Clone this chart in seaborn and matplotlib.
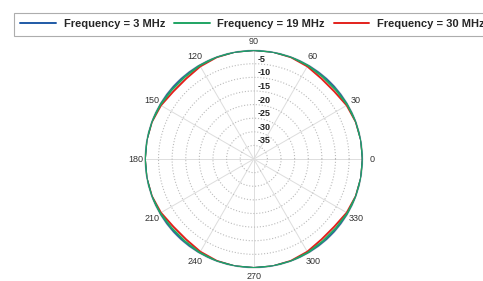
import matplotlib
matplotlib.use('Agg')
import matplotlib.pyplot as plt
import matplotlib.transforms as mtransforms
import seaborn as sns
import numpy as np
import pandas as pd

# Radiation pattern samples (dB), every 10 degrees from 0 to 360
angles_deg = [0, 10, 20, 30, 40, 50, 60, 70, 80, 90,
              100, 110, 120, 130, 140, 150, 160, 170, 180,
              190, 200, 210, 220, 230, 240, 250, 260, 270,
              280, 290, 300, 310, 320, 330, 340, 350, 360]
gain_3mhz = [0, 0, 0, -0.05, -0.1, -0.1, -0.05, 0, 0, 0,
             0, 0, -0.05, -0.1, -0.1, -0.05, 0, 0, 0,
             0, 0, -0.05, -0.1, -0.1, -0.05, 0, 0, 0,
             0, 0, -0.05, -0.1, -0.1, -0.05, 0, 0, 0]
gain_19mhz = [0, 0, -0.05, -0.3, -0.6, -0.6, -0.3, -0.05, 0, 0,
              0, -0.05, -0.3, -0.6, -0.6, -0.3, -0.05, 0, 0,
              0, -0.05, -0.3, -0.6, -0.6, -0.3, -0.05, 0, 0,
              0, -0.05, -0.3, -0.6, -0.6, -0.3, -0.05, 0, 0]
gain_30mhz = [0, 0, -0.15, -0.6, -1.4, -1.4, -0.7, -0.2, 0, 0,
              0, -0.2, -0.7, -1.4, -1.4, -0.6, -0.15, 0, 0,
              0, -0.15, -0.6, -1.4, -1.4, -0.7, -0.2, 0, 0,
              0, -0.2, -0.7, -1.4, -1.4, -0.6, -0.15, 0, 0]
series_labels = ["Frequency = 3 MHz", "Frequency = 19 MHz", "Frequency = 30 MHz"]
series_colors = ["#1f5aa6", "#1fa463", "#e3211c"]
radial_ticks = [-35, -30, -25, -20, -15, -10, -5]
angle_ticks = [0, 30, 60, 90, 120, 150, 180, 210, 240, 270, 300, 330]

sns.set_style("white")
plt.rcParams['font.family'] = ['Liberation Sans', 'DejaVu Sans']

frames = []
for label, gains in zip(series_labels, [gain_3mhz, gain_19mhz, gain_30mhz]):
    frames.append(pd.DataFrame({
        "theta": np.deg2rad(angles_deg),
        "gain": gains,
        "series": label,
    }))
df = pd.concat(frames, ignore_index=True)

fig = plt.figure(figsize=(4.83, 2.81), dpi=100)
ax = fig.add_axes([0.300, 0.046, 0.451, 0.776], projection='polar')

# Red underneath, then blue, green on top (outer edge looks teal)
for label, color, z in zip(series_labels, series_colors, [3, 4, 2]):
    sub = df[df["series"] == label]
    sns.lineplot(data=sub, x="theta", y="gain", ax=ax, color=color,
                 linewidth=1.4, sort=False, zorder=z, legend=False)

ax.set_ylim(-40, 0)
ax.set_yticks(radial_ticks)
ax.set_yticklabels([str(t) for t in radial_ticks], fontsize=6.5,
                   fontweight='bold', color='#222222')
ax.set_rlabel_position(90)
shift = mtransforms.ScaledTranslation(3 / 72, 0, fig.dpi_scale_trans)
for t in ax.get_yticklabels():
    t.set_ha('left')
    t.set_transform(t.get_transform() + shift)
ax.set_xticks(np.deg2rad(angle_ticks))
ax.set_xticklabels([str(a) for a in angle_ticks], fontsize=6.5, color='#333333')
ax.tick_params(axis='x', pad=-4)
ax.set_xlabel("")
ax.set_ylabel("")
ax.xaxis.grid(True, color='#dddddd', linestyle='-', linewidth=0.7)
ax.yaxis.grid(True, color='#bbbbbb', linestyle=':', linewidth=0.8)
ax.spines['polar'].set_color('#bbbbbb')
ax.spines['polar'].set_linewidth(0.6)

handles = [plt.Line2D([], [], color=c, linewidth=1.4) for c in series_colors]
leg = fig.legend(handles, series_labels, loc='upper left',
                 bbox_to_anchor=(0.017, 0.975), ncol=3, frameon=True,
                 fancybox=False, edgecolor='#999999', borderpad=0.6,
                 handlelength=3.2, handletextpad=0.7, columnspacing=0.8,
                 prop={'size': 8, 'weight': 'bold'})
leg.get_frame().set_linewidth(0.8)

plt.savefig("out.png", dpi=100)
plt.close()
